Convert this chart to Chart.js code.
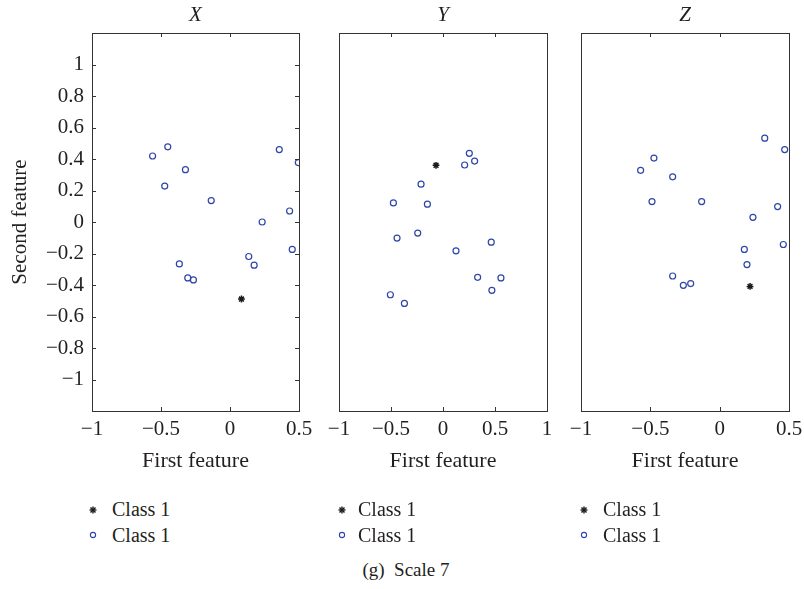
<!DOCTYPE html>
<html>
<head>
<meta charset="utf-8">
<script src="https://cdn.jsdelivr.net/npm/chart.js@4/dist/chart.umd.min.js"></script>
<style>
  html, body { margin: 0; padding: 0; background: #fff; }
  body { position: relative; width: 804px; height: 589px; overflow: hidden;
         font-family: "Liberation Serif", "DejaVu Serif", serif; color: #231f20; }
  .panel { position: absolute; top: 0; height: 480px; }
  .legend { position: absolute; top: 497px; font-size: 20px; line-height: 25.5px; }
  .legend div { position: relative; white-space: nowrap; }
  .legend svg { position: absolute; top: 50%; margin-top: -5px; }
  .caption { position: absolute; top: 559px; left: 0; width: 812px; text-align: center; font-size: 19px; }
</style>
</head>
<body>
<div class="panel" style="left:0;width:330px"><canvas id="panelX"></canvas></div>
<div class="panel" style="left:310px;width:260px"><canvas id="panelY"></canvas></div>
<div class="panel" style="left:560px;width:270px"><canvas id="panelZ"></canvas></div>

<div class="legend" style="left:88px" id="legX"></div>
<div class="legend" style="left:337px" id="legY"></div>
<div class="legend" style="left:579px" id="legZ"></div>
<div class="caption">(g)&nbsp; Scale 7</div>

<script>
// ---- data -------------------------------------------------------------
const panelTitles = ['X', 'Y', 'Z'];
const legendLabels = ['Class 1', 'Class 1'];

// panel X
const xFirst  = [-0.561, -0.451, -0.323, -0.473, -0.136, 0.357, 0.495, 0.432, 0.233, 0.451, 0.136, 0.175, -0.367, -0.306, -0.265];
const xSecond = [ 0.419,  0.477,  0.332,  0.228,  0.136, 0.460, 0.377, 0.070, 0.000, -0.174, -0.219, -0.274, -0.266, -0.355, -0.368];
const xMarked = [0.083, -0.489];

// panel Y
const yFirst  = [0.253, 0.304, 0.208, -0.211, -0.477, -0.150, -0.442, -0.243, 0.125, 0.464, 0.333, 0.557, 0.470, -0.506, -0.371];
const ySecond = [0.436, 0.387, 0.362,  0.240,  0.121,  0.113, -0.102, -0.070, -0.183, -0.128, -0.351, -0.355, -0.434, -0.462, -0.517];
const yMarked = [-0.067, 0.360];

// panel Z
const zFirst  = [0.325, 0.469, -0.474, -0.570, -0.339, -0.488, -0.130, 0.418, 0.240, 0.459, 0.178, 0.197, -0.339, -0.262, -0.209];
const zSecond = [0.532, 0.460,  0.406,  0.328,  0.287,  0.130,  0.130, 0.098, 0.030, -0.143, -0.174, -0.270, -0.343, -0.402, -0.391];
const zMarked = [0.219, -0.409];

// axis ranges and tick steps
const xRangeNarrow = [-1, 0.5];
const xRangeWide = [-1, 1];
const xStep = 0.5;
const yRange = [-1.2, 1.2];
const yStep = 0.2;
const yLabelLimit = 1;

// ---- styling -------------------------------------------------------------
const FONT = '"Liberation Serif", "DejaVu Serif", serif';
const TEXT = '#231f20';
const FRAME = '#333333';
const BLUE = '#2e45a8';
const DARK = '#1a1a1a';

function fmt(v) {
  const r = Math.round(v * 10) / 10;
  if (Math.abs(r) > yLabelLimit + 1e-9) return '';
  return String(r).replace('-', '\u2212');
}

// frame and inward tick marks on the plot box
const framePlugin = {
  id: 'frameTicks',
  afterDraw(chart, args, opts) {
    const { ctx, chartArea: a } = chart;
    const L = 4;
    ctx.save();
    ctx.strokeStyle = FRAME;
    ctx.lineWidth = 1;
    ctx.beginPath();
    const xs = chart.scales.x;
    xs.ticks.forEach(t => {
      const px = Math.round(xs.getPixelForValue(t.value)) + 0.5;
      if (px <= a.left + 1 || px >= a.right - 1) return;
      ctx.moveTo(px, a.top); ctx.lineTo(px, a.top + L);
      ctx.moveTo(px, a.bottom); ctx.lineTo(px, a.bottom - L);
    });
    if (opts.yTicks) {
      const ys = chart.scales.y;
      ys.ticks.forEach(t => {
        if (Math.abs(t.value) > yLabelLimit + 1e-9) return;
        const py = Math.round(ys.getPixelForValue(t.value)) + 0.5;
        ctx.moveTo(a.left, py); ctx.lineTo(a.left + L, py);
        ctx.moveTo(a.right, py); ctx.lineTo(a.right - L, py);
      });
    }
    ctx.stroke();
    ctx.strokeRect(Math.round(a.left) + 0.5, Math.round(a.top) + 0.5,
                   Math.round(a.right - a.left), Math.round(a.bottom - a.top));
    ctx.restore();
  }
};

function toPoints(xs, ys) { return xs.map((x, i) => ({ x, y: ys[i] })); }

function makePanel(id, title, first, second, marked, xRange, withY, pad) {
  const cfg = {
    type: 'scatter',
    data: {
      datasets: [
        {
          label: legendLabels[0],
          data: [{ x: marked[0], y: marked[1] }],
          pointStyle: 'star', pointRadius: 3.4, pointHoverRadius: 3.4,
          borderColor: DARK, backgroundColor: DARK, pointBorderWidth: 1.5
        },
        {
          label: legendLabels[1],
          data: toPoints(first, second),
          pointStyle: 'circle', pointRadius: 3, pointHoverRadius: 3,
          borderColor: BLUE, backgroundColor: 'rgba(0,0,0,0)', pointBorderWidth: 1.2
        }
      ]
    },
    options: {
      responsive: true,
      maintainAspectRatio: false,
      animation: false,
      events: [],
      layout: { padding: { left: pad.left, right: pad.right, top: 0, bottom: 0 } },
      plugins: {
        legend: { display: false },
        tooltip: { enabled: false },
        title: {
          display: true, text: title, fullSize: false, color: TEXT,
          font: { family: FONT, size: 21, style: 'italic', weight: 'normal', lineHeight: 1.2 },
          padding: { top: 3, bottom: 4.8 }
        },
        frameTicks: { yTicks: withY }
      },
      scales: {
        x: {
          type: 'linear', min: xRange[0], max: xRange[1],
          border: { display: false },
          grid: { display: false, drawTicks: false },
          ticks: {
            stepSize: xStep, autoSkip: false, maxRotation: 0, padding: 6,
            color: TEXT, font: { family: FONT, size: 21, lineHeight: 1.2 },
            callback: v => fmt(v)
          },
          title: {
            display: true, text: 'First feature', color: TEXT,
            font: { family: FONT, size: 22, lineHeight: 1.2 },
            padding: { top: 0, bottom: 6 }
          },
          afterFit(s) { s.height = 69; }
        },
        y: {
          type: 'linear', min: yRange[0], max: yRange[1], display: withY,
          border: { display: false },
          grid: { display: false, drawTicks: false },
          ticks: {
            stepSize: yStep, autoSkip: false, padding: 8,
            color: TEXT, font: { family: FONT, size: 21, lineHeight: 1.2 },
            callback: v => fmt(v)
          },
          title: {
            display: true, text: 'Second feature', color: TEXT,
            font: { family: FONT, size: 21, lineHeight: 1.2 },
            padding: { top: 8, bottom: 0 }
          },
          afterFit(s) { s.width = withY ? 92 : 0; }
        }
      }
    },
    plugins: [framePlugin]
  };
  return new Chart(document.getElementById(id), cfg);
}

makePanel('panelX', panelTitles[0], xFirst, xSecond, xMarked, xRangeNarrow, true, { left: 0, right: 31 });
makePanel('panelY', panelTitles[1], yFirst, ySecond, yMarked, xRangeWide, false, { left: 29, right: 23 });
makePanel('panelZ', panelTitles[2], zFirst, zSecond, zMarked, xRangeNarrow, false, { left: 21, right: 41 });

// legend blocks under each panel
const starSvg = '<svg width="10" height="10" viewBox="0 0 10 10" style="left:0">' +
  '<g stroke="' + DARK + '" stroke-width="1.4"><line x1="5" y1="1.5" x2="5" y2="8.5"/><line x1="1.5" y1="5" x2="8.5" y2="5"/>' +
  '<line x1="2.5" y1="2.5" x2="7.5" y2="7.5"/><line x1="7.5" y1="2.5" x2="2.5" y2="7.5"/></g></svg>';
const circSvg = '<svg width="10" height="10" viewBox="0 0 10 10" style="left:0">' +
  '<circle cx="5" cy="5" r="2.6" fill="none" stroke="' + BLUE + '" stroke-width="1.1"/></svg>';

['legX', 'legY', 'legZ'].forEach((id, k) => {
  const el = document.getElementById(id);
  const indent = k === 1 ? 21 : 24;
  el.innerHTML =
    '<div style="padding-left:' + indent + 'px">' + starSvg + legendLabels[0] + '</div>' +
    '<div style="padding-left:' + indent + 'px">' + circSvg + legendLabels[1] + '</div>';
});
</script>
</body>
</html>
